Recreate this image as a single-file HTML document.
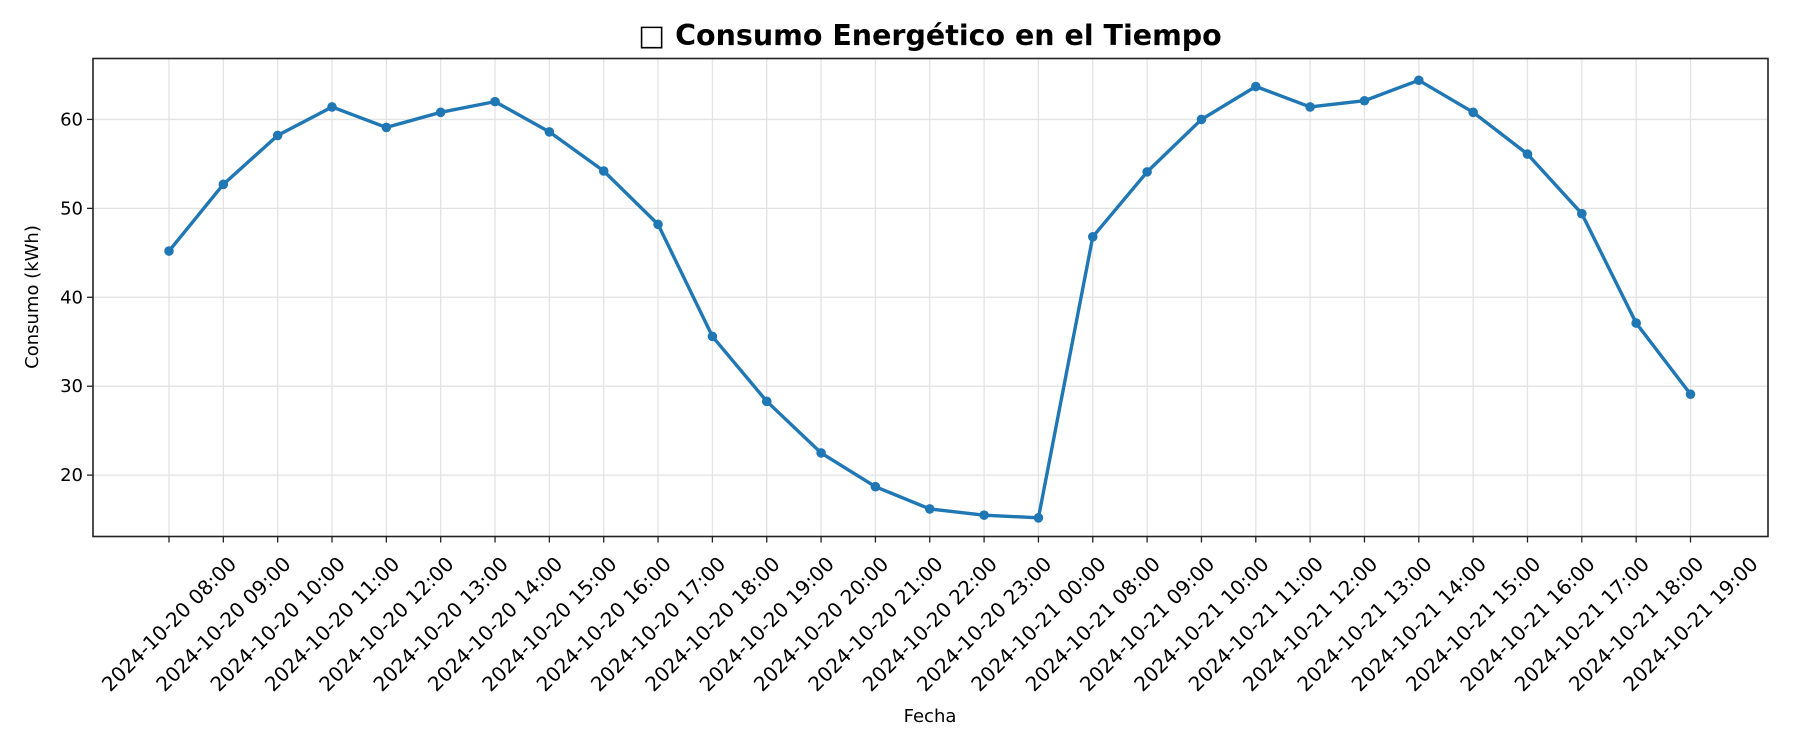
<!DOCTYPE html>
<html><head><meta charset="utf-8"><style>
html,body{margin:0;padding:0;background:#fff;}
svg text{font-family:"DejaVu Sans","Liberation Sans",sans-serif;fill:#000;}
</style></head><body>
<svg id="chart" width="1800" height="750" xmlns="http://www.w3.org/2000/svg">
<rect width="1800" height="750" fill="#fff"/>
<text x="930" y="45" text-anchor="middle" font-size="28.5" font-weight="bold">□ Consumo Energético en el Tiempo</text>
<g id="grid"></g>
<g id="xticks"></g>
<g id="yticks"></g>
<g id="series"></g>
<rect x="93" y="58.5" width="1675" height="478" fill="none" stroke="#222" stroke-width="1.6"/>
<text x="930" y="722" text-anchor="middle" font-size="18">Fecha</text>
<text transform="translate(38,297) rotate(-90)" text-anchor="middle" font-size="18">Consumo (kWh)</text>
</svg>
<script>
const categories = ["2024-10-20 08:00","2024-10-20 09:00","2024-10-20 10:00","2024-10-20 11:00","2024-10-20 12:00","2024-10-20 13:00","2024-10-20 14:00","2024-10-20 15:00","2024-10-20 16:00","2024-10-20 17:00","2024-10-20 18:00","2024-10-20 19:00","2024-10-20 20:00","2024-10-20 21:00","2024-10-20 22:00","2024-10-20 23:00","2024-10-21 00:00","2024-10-21 08:00","2024-10-21 09:00","2024-10-21 10:00","2024-10-21 11:00","2024-10-21 12:00","2024-10-21 13:00","2024-10-21 14:00","2024-10-21 15:00","2024-10-21 16:00","2024-10-21 17:00","2024-10-21 18:00","2024-10-21 19:00"];
const consumo = [45.2,52.7,58.2,61.4,59.1,60.8,62.0,58.6,54.2,48.2,35.6,28.3,22.5,18.7,16.2,15.5,15.2,46.8,54.1,60.0,63.7,61.4,62.1,64.4,60.8,56.1,49.4,37.1,29.1];
const yTicks = [20,30,40,50,60];

const NS="http://www.w3.org/2000/svg";
const L=93,R=1768,T=58.5,B=536.5;
const yMin=13.1,yMax=66.85;
const x0=169,x1=1690.5;
function xs(i){return x0+(x1-x0)*i/(categories.length-1);}
function ys(v){return B-(v-yMin)/(yMax-yMin)*(B-T);}
function mk(tag,attrs,parent){const e=document.createElementNS(NS,tag);for(const k in attrs)e.setAttribute(k,attrs[k]);parent.appendChild(e);return e;}
const grid=document.getElementById('grid'),xt=document.getElementById('xticks'),yt=document.getElementById('yticks'),ser=document.getElementById('series');
categories.forEach((c,i)=>{
  const x=xs(i);
  const g=mk('line',{x1:x,x2:x,y1:T,y2:B,stroke:'#e3e3e3','stroke-width':1.3},grid);
  
  
  const t=mk('line',{x1:x,x2:x,y1:B,y2:B+6,stroke:'#222','stroke-width':1.3},xt);
  
  
  const tx=mk('text',{transform:`translate(${x},${624}) rotate(-45)`,'text-anchor':'middle','dominant-baseline':'central','font-size':20},xt);
  tx.textContent=c;
  
  
});
yTicks.forEach(v=>{
  const y=ys(v);
  const g=mk('line',{x1:L,x2:R,y1:y,y2:y,stroke:'#e3e3e3','stroke-width':1.3},grid);
  
  
  const t=mk('line',{x1:L-6,x2:L,y1:y,y2:y,stroke:'#222','stroke-width':1.3},yt);
  
  
  const tx=mk('text',{x:L-10,y:y+6,'text-anchor':'end','font-size':18},yt);
  tx.textContent=v;
  
  
});
const pts=consumo.map((v,i)=>xs(i)+','+ys(v)).join(' ');
const line=mk('polyline',{points:pts,fill:'none',stroke:'#1f77b4','stroke-width':3.4,'stroke-linejoin':'round'},ser);


consumo.forEach((v,i)=>{
  const c=mk('circle',{cx:xs(i),cy:ys(v),r:4.8,fill:'#1f77b4'},ser);
  
  
});
</script>
</body></html>
